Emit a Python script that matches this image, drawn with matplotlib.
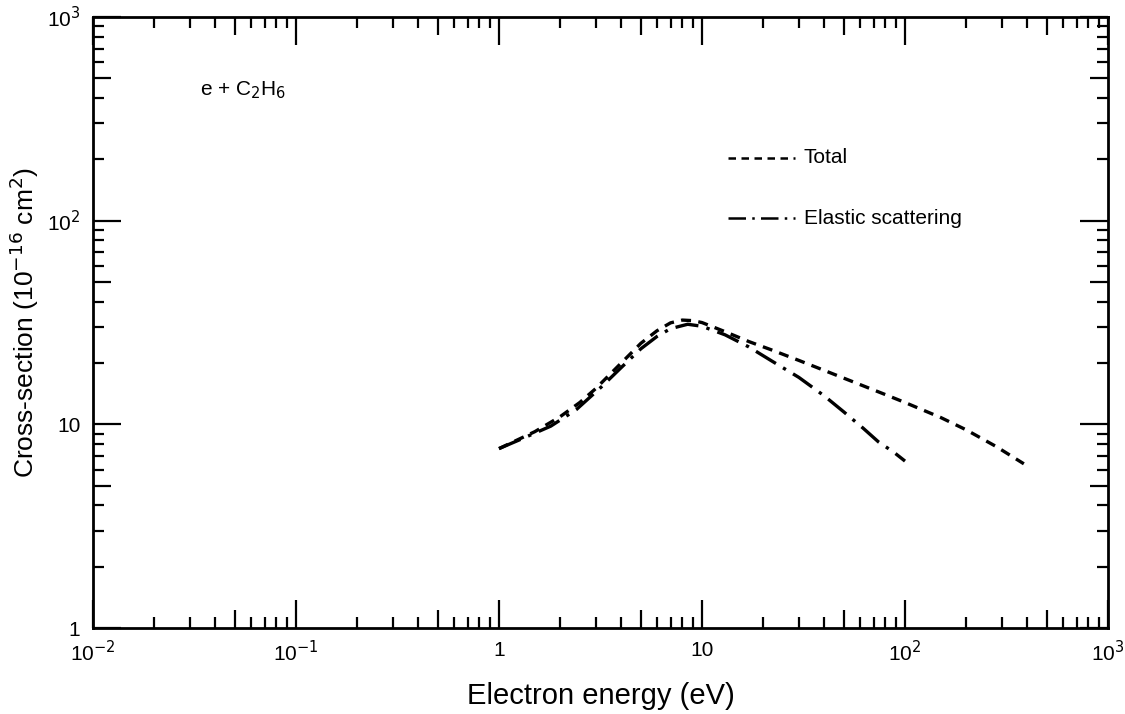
import matplotlib
matplotlib.use('Agg')
import matplotlib.pyplot as plt
from matplotlib.ticker import FixedLocator, NullFormatter

plt.rcParams['font.family'] = ['Liberation Sans', 'DejaVu Sans']

# e + C2H6 cross-sections (10^-16 cm^2)
total_E = [1.0, 1.5, 2.0, 2.5, 3.0, 4.0, 5.0, 6.0, 7.0, 8.0, 9.0, 10.0, 13.0, 17.0,
           22.0, 30.0, 40.0, 57.0, 80.0, 100.0, 150.0, 200.0, 280.0, 385.0]
total_Q = [7.6, 9.2, 10.9, 12.8, 15.0, 20.0, 25.0, 28.8, 31.5, 32.5, 32.3, 31.6, 28.5, 25.5,
           23.2, 20.6, 18.4, 16.0, 14.0, 12.8, 10.8, 9.4, 7.8, 6.4]

elastic_E = [1.0, 1.3, 1.8, 2.4, 3.2, 4.0, 5.0, 6.0, 7.0, 8.5, 10.0, 13.0, 17.0, 22.0,
             30.0, 40.0, 50.0, 62.0, 74.0, 88.0, 100.0]
elastic_Q = [7.6, 8.5, 9.8, 11.8, 15.3, 19.0, 23.5, 27.0, 29.5, 31.0, 30.3, 27.5, 24.0, 20.5,
             17.0, 13.8, 11.5, 9.6, 8.2, 7.3, 6.6]

x_decades = [1e-2, 1e-1, 1, 10, 1e2, 1e3]
x_ticklabels = ['10$^{-2}$', '10$^{-1}$', '1', '10', '10$^2$', '10$^3$']
y_decades = [1, 10, 1e2, 1e3]
y_ticklabels = ['1', '10', '10$^2$', '10$^3$']


def tick_sets(decades):
    # ticks at 5 are a bit longer than the other minor ticks in the original
    fives = [d * 5 for d in decades[:-1]]
    others = [d * k for d in decades[:-1] for k in (2, 3, 4, 6, 7, 8, 9)]
    return fives, others


fig = plt.figure(figsize=(11.25, 7.14), dpi=100)
ax = fig.add_axes([93 / 1125, 1 - 628 / 714, (1108 - 93) / 1125, (628 - 17) / 714])

ax.plot(total_E, total_Q, color='black', lw=2.4, linestyle=(0, (3, 2.2)))
ax.plot(elastic_E, elastic_Q, color='black', lw=2.4, linestyle=(0, (7, 2.5, 1, 2.5)))

ax.set_xscale('log')
ax.set_yscale('log')
ax.set_xlim(1e-2, 1e3)
ax.set_ylim(1, 1e3)

for axis, decades, labels in [(ax.xaxis, x_decades, x_ticklabels),
                              (ax.yaxis, y_decades, y_ticklabels)]:
    fives, others = tick_sets(decades)
    axis.set_major_locator(FixedLocator(decades + fives))
    axis.set_ticklabels(labels + [''] * len(fives))
    axis.set_minor_locator(FixedLocator(others))
    axis.set_minor_formatter(NullFormatter())

ax.tick_params(which='both', direction='in', top=True, right=True, width=1.6,
               labelsize=15, pad=9)
ax.tick_params(which='major', length=20)
ax.tick_params(which='minor', length=8)

# shorten the unlabeled "5" major ticks
for axis, decades in [(ax.xaxis, x_decades), (ax.yaxis, y_decades)]:
    ticks = axis.get_major_ticks()
    for t in ticks[len(decades):]:
        t.tick1line.set_markersize(13)
        t.tick2line.set_markersize(13)

for s in ax.spines.values():
    s.set_linewidth(2)

ax.set_xlabel('Electron energy (eV)', fontsize=21, labelpad=12)
ax.set_ylabel('Cross-section (10$^{-16}$ cm$^2$)', fontsize=19, labelpad=4)

ax.text(0.105, 0.88, 'e + C$_2$H$_6$', transform=ax.transAxes, fontsize=15,
        va='center', ha='left')

# legend drawn by hand, like the original figure
ax.plot([0.626, 0.692], [0.77, 0.77], transform=ax.transAxes, color='black',
        lw=1.8, linestyle=(0, (3, 2.2)))
ax.text(0.70, 0.77, 'Total', transform=ax.transAxes, fontsize=15, va='center')
ax.plot([0.626, 0.692], [0.671, 0.671], transform=ax.transAxes, color='black',
        lw=1.8, linestyle=(0, (7, 2.5, 1, 2.5)))
ax.text(0.70, 0.671, 'Elastic scattering', transform=ax.transAxes, fontsize=15,
        va='center')

fig.savefig('out.png', dpi=100)
